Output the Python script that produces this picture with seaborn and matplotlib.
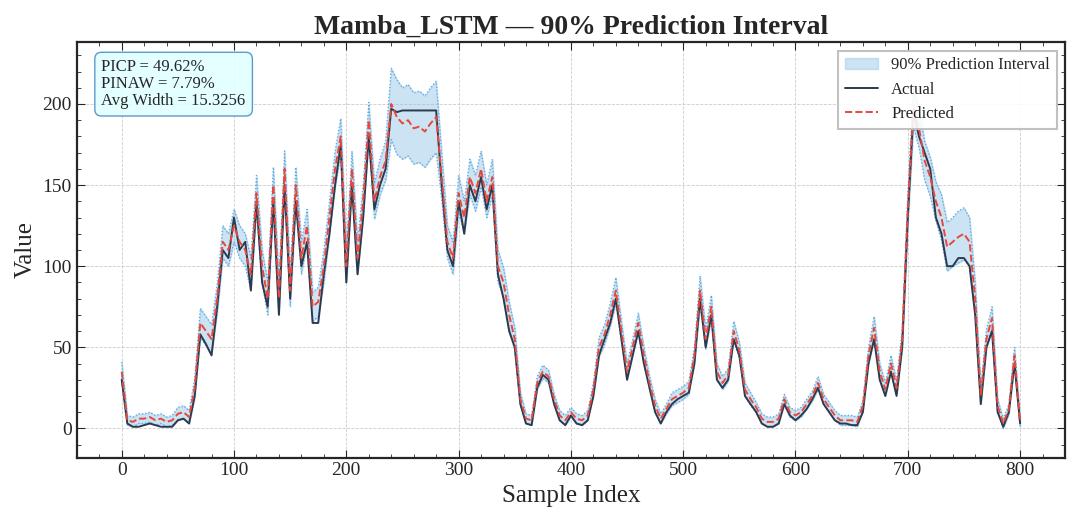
import numpy as np
import pandas as pd
import matplotlib
matplotlib.use("Agg")
import matplotlib.pyplot as plt
import seaborn as sns

idx = list(range(0, 801, 5))
actual = [30, 3, 1, 1, 2, 3, 2, 1, 1, 1, 5, 6, 3, 20, 58, 52, 45, 75, 110, 105,
          130, 110, 115, 85, 140, 90, 75, 140, 70, 150, 80, 140, 100, 115, 65, 65, 95, 120, 150, 175,
          90, 150, 95, 130, 180, 135, 150, 160, 197, 195, 196, 196, 196, 196, 196, 196, 196, 150, 110, 100,
          140, 120, 150, 140, 155, 135, 150, 95, 80, 60, 50, 15, 3, 2, 25, 33, 30, 15, 5, 2,
          8, 3, 2, 5, 20, 45, 55, 65, 80, 55, 30, 45, 60, 40, 25, 10, 3, 10, 15, 18,
          20, 22, 40, 80, 50, 70, 30, 25, 30, 55, 45, 20, 15, 10, 3, 1, 1, 3, 15, 8,
          5, 8, 12, 18, 25, 15, 10, 5, 3, 3, 2, 2, 10, 40, 55, 30, 20, 35, 20, 50,
          130, 195, 180, 170, 160, 130, 120, 100, 100, 105, 105, 100, 70, 15, 50, 60, 10, 1, 10, 40,
          3]
predicted = [35, 5, 4, 6, 6, 7, 5, 6, 4, 5, 9, 10, 7, 25, 65, 60, 55, 80, 115, 110,
             125, 115, 110, 95, 145, 100, 80, 150, 80, 160, 85, 150, 105, 125, 75, 78, 100, 130, 160, 180,
             100, 160, 105, 140, 190, 140, 155, 165, 200, 192, 188, 190, 185, 186, 183, 188, 192, 155, 115, 105,
             145, 130, 155, 145, 160, 140, 155, 100, 90, 70, 55, 18, 6, 5, 28, 35, 32, 18, 8, 5,
             10, 6, 5, 8, 24, 50, 58, 70, 85, 60, 35, 50, 65, 45, 28, 14, 6, 12, 18, 20,
             22, 25, 45, 85, 55, 75, 35, 28, 33, 60, 48, 24, 18, 13, 6, 4, 4, 6, 18, 10,
             8, 10, 15, 20, 28, 18, 13, 8, 5, 5, 5, 4, 14, 45, 62, 35, 24, 40, 25, 55,
             135, 198, 185, 165, 155, 140, 130, 112, 115, 118, 120, 115, 80, 20, 55, 68, 14, 3, 12, 45,
             4]
half = [6, 3, 3, 3, 3, 3, 3, 3, 3, 3, 4, 4, 4, 6, 9, 9, 9, 9, 10, 10,
        10, 10, 10, 10, 11, 10, 10, 11, 10, 11, 10, 11, 10, 10, 9, 9, 10, 10, 11, 11,
        10, 11, 10, 10, 11, 11, 11, 12, 22, 23, 22, 22, 22, 22, 22, 22, 22, 14, 10, 10,
        11, 10, 11, 11, 11, 10, 11, 10, 9, 8, 7, 4, 3, 3, 4, 4, 4, 3, 3, 3,
        3, 3, 3, 3, 4, 6, 6, 7, 8, 6, 5, 5, 6, 5, 4, 4, 3, 3, 4, 4,
        4, 4, 5, 9, 6, 7, 5, 4, 4, 6, 5, 4, 4, 3, 3, 3, 3, 3, 3, 3,
        3, 3, 3, 3, 4, 3, 3, 3, 3, 3, 3, 3, 3, 5, 7, 5, 4, 5, 4, 6,
        10, 12, 12, 12, 12, 12, 14, 15, 15, 16, 16, 15, 10, 5, 6, 7, 4, 3, 3, 5,
        3]

df = pd.DataFrame({"idx": idx, "actual": actual, "predicted": predicted, "half": half})
df["lower"] = df["predicted"] - df["half"]
df["upper"] = df["predicted"] + df["half"]

sns.set_style("ticks")
plt.rcParams["font.family"] = ["Liberation Serif", "DejaVu Serif"]
plt.rcParams["xtick.direction"] = "in"
plt.rcParams["ytick.direction"] = "in"

fig, ax = plt.subplots(figsize=(10.8, 5.22), dpi=100)
ax.fill_between(df["idx"], df["lower"], df["upper"], color="#8ec3e8", alpha=0.45,
                edgecolor="#8ec3e8", label="90% Prediction Interval")
ax.plot(df["idx"], df["lower"], color="#5aa7dd", lw=0.9, ls=":")
ax.plot(df["idx"], df["upper"], color="#5aa7dd", lw=0.9, ls=":")
sns.lineplot(data=df, x="idx", y="actual", ax=ax, color="#2b3a4e", lw=1.4, label="Actual")
sns.lineplot(data=df, x="idx", y="predicted", ax=ax, color="#e8483b", lw=1.4, ls="--", label="Predicted")

ax.set_xlim(-40, 840)
ax.set_ylim(-18, 238)
ax.set_xticks(range(0, 801, 100))
ax.set_yticks(range(0, 201, 50))
ax.minorticks_on()
ax.tick_params(which="both", top=True, right=True, labelsize=14)
ax.tick_params(which="major", length=6)
ax.tick_params(which="minor", length=3)
ax.grid(True, ls="--", lw=0.6, color="#cccccc")
for s in ax.spines.values():
    s.set_linewidth(1.6)

ax.set_title("Mamba_LSTM — 90% Prediction Interval", fontsize=20, fontweight="bold")
ax.set_xlabel("Sample Index", fontsize=18)
ax.set_ylabel("Value", fontsize=18)
leg = ax.legend(loc="upper right", fontsize=12, fancybox=False, edgecolor="#bbbbbb", framealpha=0.9)
leg.get_frame().set_linewidth(1.5)
ax.text(0.025, 0.96, "PICP = 49.62%\nPINAW = 7.79%\nAvg Width = 15.3256", transform=ax.transAxes,
        fontsize=12, va="top", linespacing=1.1,
        bbox=dict(boxstyle="round,pad=0.4", facecolor="#e0ffff", edgecolor="#4a90c8", alpha=0.9))

plt.tight_layout()
plt.savefig("out.png", dpi=100)
